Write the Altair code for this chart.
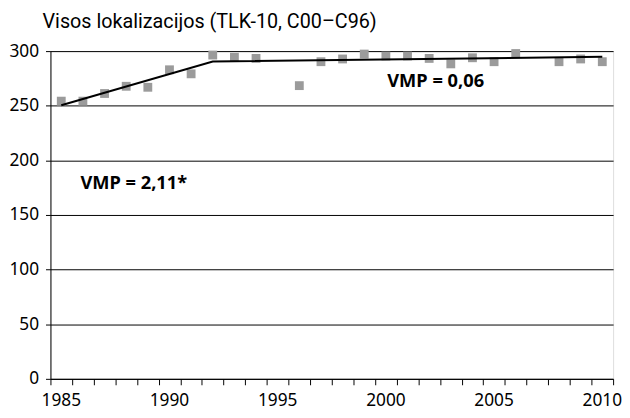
import altair as alt
import pandas as pd

years = [1985, 1986, 1987, 1988, 1989, 1990, 1991, 1992, 1993, 1994, 1996, 1997,
         1998, 1999, 2000, 2001, 2002, 2003, 2004, 2005, 2006, 2008, 2009, 2010]
rates = [254.2, 254.2, 261.2, 267.8, 266.9, 282.9, 279.2, 296.4, 294.4, 293.3, 268.4, 290.3,
         292.8, 297.3, 295.5, 295.5, 293.3, 288.3, 293.9, 290.3, 297.8, 290.3, 292.8, 290.3]

trend_years = [1985, 1992, 2010]
trend_vals = [250.5, 290.5, 294.8]

ann_text = ["VMP = 0,06", "VMP = 2,11*"]
ann_x = [2002.3, 1988.35]
ann_y = [273.0, 179.5]

title_text = "Visos lokalizacijos (TLK-10, C00\u2013C96)"
y_ticks = [0, 50, 100, 150, 200, 250, 300]
x_label_years = [1985, 1990, 1995, 2000, 2005, 2010]
x_tick_pos = [1984.5 + i for i in range(27)]

W, H = 570, 332

pts = pd.DataFrame({"year": years, "rate": rates})
trend = pd.DataFrame({"year": trend_years, "rate": trend_vals})
ann = pd.DataFrame({"t": ann_text, "x": ann_x, "y": ann_y})
xlab = pd.DataFrame({"year": x_label_years, "label": [str(v) for v in x_label_years]})

FONT = "Noto Sans"

xscale = alt.Scale(domain=[1984.5, 2010.5], nice=False, zero=False)
yscale = alt.Scale(domain=[0, 300], nice=False)

xaxis = alt.Axis(
    values=x_tick_pos,
    labels=False,
    ticks=True,
    tickSize=6,
    tickColor="black",
    domain=True,
    domainColor="black",
    grid=False,
    title=None,
)
yaxis = alt.Axis(
    values=y_ticks,
    grid=True,
    gridColor="black",
    gridWidth=1,
    tickSize=5,
    tickColor="black",
    domainColor="black",
    labelColor="black",
    labelFont=FONT,
    labelFontSize=17.5,
    labelPadding=7,
    title=None,
)

points = alt.Chart(pts).mark_square(size=80, color="#9b9b9b", opacity=1).encode(
    x=alt.X("year:Q", scale=xscale, axis=xaxis),
    y=alt.Y("rate:Q", scale=yscale, axis=yaxis),
)

line = alt.Chart(trend).mark_line(color="black", strokeWidth=2).encode(
    x=alt.X("year:Q", scale=xscale, axis=xaxis),
    y=alt.Y("rate:Q", scale=yscale, axis=yaxis),
)

year_labels = alt.Chart(xlab).mark_text(
    font=FONT, fontSize=17.5, color="black", align="center", baseline="middle"
).encode(
    x=alt.X("year:Q", scale=xscale, axis=xaxis),
    y=alt.value(H + 23),
    text="label:N",
)

labels = alt.Chart(ann).mark_text(
    font=FONT, fontSize=18.5, fontWeight="bold", color="black",
    align="center", baseline="middle"
).encode(
    x=alt.X("x:Q", scale=xscale, axis=xaxis),
    y=alt.Y("y:Q", scale=yscale, axis=yaxis),
    text="t:N",
)

chart = alt.layer(points, line, year_labels, labels).properties(
    width=W,
    height=H,
    title=alt.TitleParams(
        text=title_text, anchor="start", frame="group", dx=-8, offset=10,
        font="Roboto", fontSize=20, fontWeight="normal", color="black",
    ),
    autosize=alt.AutoSizeParams(type="none"),
    padding={"left": 43, "top": 41, "right": 9, "bottom": 37},
).configure_view(stroke=None).configure(background="white")

chart.save("out.html", embed_options={"renderer": "svg", "actions": False})
